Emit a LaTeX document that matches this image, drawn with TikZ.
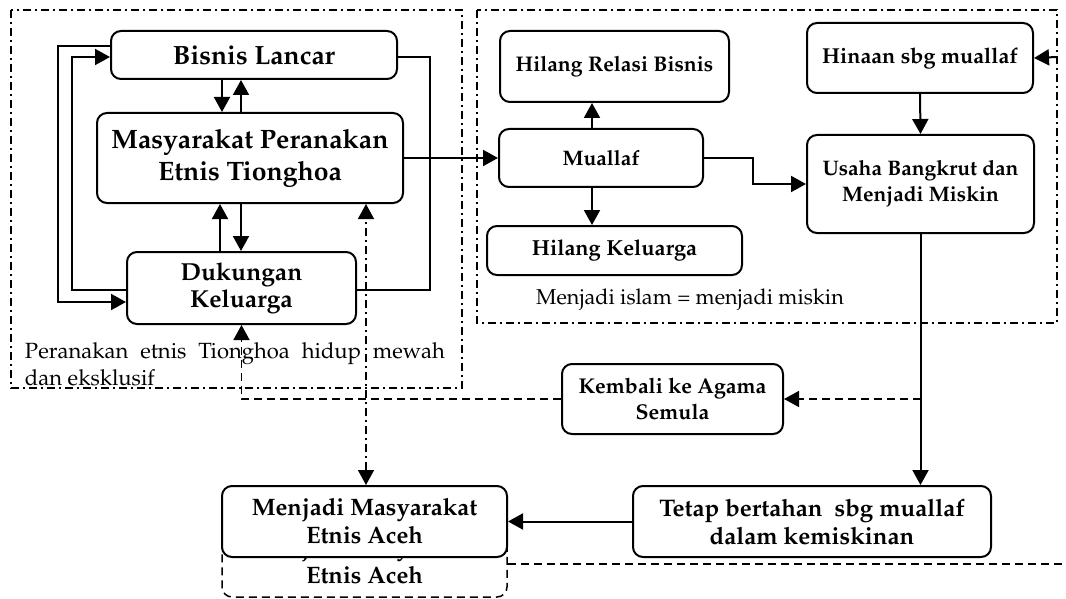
\documentclass[tikz,border=0pt]{standalone}
\usepackage[T1]{fontenc}
\usepackage{mathpazo}
\usetikzlibrary{arrows.meta}
\begin{document}
\begin{tikzpicture}[x=0.5pt,y=-0.5pt,line width=1pt,
kotak/.style={draw,rounded corners=5pt,align=center,inner sep=0pt,fill=white},
pijl/.style={arrows={-Triangle[length=7.5pt,width=8pt]}},
pijldua/.style={arrows={Triangle[length=7.5pt,width=8pt]-Triangle[length=7.5pt,width=8pt]}},
titik/.style={dash pattern=on 4pt off 2pt on 1pt off 2pt,line width=0.75pt},
putus/.style={dash pattern=on 4pt off 2.5pt,line width=0.75pt}]
\useasboundingbox (0,0) rectangle (1066,599);
\draw[titik](11,10) rectangle (462,388);
\draw[titik](477,10) rectangle (1057,323);
\node[kotak,minimum width=143pt,minimum height=24pt,font=\bfseries\fontsize{13.2}{16}\selectfont](bisnis) at (254,55){Bisnis Lancar};
\node[kotak,minimum width=153pt,minimum height=45pt,font=\bfseries\fontsize{13.3}{16}\selectfont](peranakan) at (250,158){Masyarakat Peranakan\\Etnis Tionghoa};
\node[kotak,minimum width=114.5pt,minimum height=36pt,font=\bfseries\fontsize{12.3}{13.5}\selectfont](dukungan) at (241.5,288){Dukungan\\Keluarga};
\node[text width=210pt,align=justify,inner sep=0pt,font=\fontsize{11}{13.5}\selectfont](catatan) at (235,364){Peranakan\hfill etnis\hfill Tionghoa\hfill hidup\hfill mewah\\dan eksklusif};
\node[kotak,minimum width=114.5pt,minimum height=35.5pt,font=\bfseries\fontsize{10.6}{12.5}\selectfont](relasi) at (614.5,66.5){Hilang Relasi Bisnis};
\node[kotak,minimum width=102pt,minimum height=29pt,font=\bfseries\fontsize{10.5}{12.5}\selectfont](muallaf) at (601,158){Muallaf};
\node[kotak,minimum width=127.5pt,minimum height=24.5pt,font=\bfseries\fontsize{10.9}{12.5}\selectfont](keluarga) at (614.5,250.5){Hilang Keluarga};
\node[inner sep=0pt,font=\fontsize{10.8}{12}\selectfont](islam) at (690,300){Menjadi islam = menjadi miskin};
\node[kotak,minimum width=113pt,minimum height=35pt,font=\bfseries\fontsize{10.8}{12.5}\selectfont](hinaan) at (920,58){Hinaan sbg muallaf};
\node[kotak,minimum width=113.5pt,minimum height=49pt,font=\bfseries\fontsize{10.5}{13}\selectfont](usaha) at (920.5,184){Usaha Bangkrut dan\\Menjadi Miskin};
\node[kotak,minimum width=110.5pt,minimum height=35pt,font=\bfseries\fontsize{10.7}{13.3}\selectfont](kembali) at (672.5,399){Kembali ke Agama\\Semula};
\node[kotak,minimum width=179pt,minimum height=35.5pt,font=\bfseries\fontsize{12}{14}\selectfont](tetap) at (812,521.5){Tetap bertahan\ \ sbg muallaf\\dalam kemiskinan};
\node[kotak,putus,fill=none,minimum width=142.5pt,minimum height=35.5pt,font=\bfseries\fontsize{11.9}{14}\selectfont](bayang) at (364.5,561.5){Menjadi Masyarakat\\Etnis Aceh};
\node[kotak,minimum width=142.5pt,minimum height=35.5pt,font=\bfseries\fontsize{11.9}{14}\selectfont](aceh) at (364.5,521.5){Menjadi Masyarakat\\Etnis Aceh};
\coordinate (kanan) at (1057,57);
\draw[pijl]([xshift=-16pt]bisnis.south)--([xshift=-16pt]bisnis.south |- peranakan.north);
\draw[pijl]([xshift=-4.5pt]peranakan.north)--([xshift=-4.5pt]peranakan.north |- bisnis.south);
\draw[pijl]([xshift=-10.75pt]dukungan.north)--([xshift=-15pt]peranakan.south);
\draw[pijl]([xshift=-4.5pt]peranakan.south)--([xshift=-4.5pt]peranakan.south |- dukungan.north);
\draw[pijl]([yshift=4.5pt]bisnis.west)--++(-52,0)|-([yshift=-7pt]dukungan.west);
\draw[pijl]([yshift=-1pt]dukungan.west)--++(-54,0)|-([yshift=-1pt]bisnis.west);
\draw([yshift=-1pt]bisnis.east)--++(32,0)|-([yshift=-1pt]dukungan.east);
\draw[pijl](peranakan.east)--(muallaf.west);
\draw[pijl]([xshift=-4.5pt]muallaf.north)--([xshift=-4.5pt]muallaf.north |- relasi.south);
\draw[pijl]([xshift=-4.5pt]muallaf.south)--([xshift=-4.5pt]muallaf.south |- keluarga.north);
\draw[pijl](muallaf.east)--++(49,0)|-(usaha.west);
\draw[pijl](hinaan.south)--(usaha.north);
\draw[pijl](kanan)--(hinaan.east);
\draw[pijl](usaha.south)--(usaha.south |- tetap.north);
\draw[putus,pijl](usaha.south |- kembali.east)--(kembali.east);
\draw[putus,pijl](kembali.west)-|(dukungan.south);
\draw[pijl](tetap.west)--(aceh.east);
\draw[titik,pijldua]([xshift=0.75pt]aceh.north)--([xshift=0.75pt]aceh.north |- peranakan.south);
\draw[putus]([yshift=-1.25pt]bayang.east)--++(559,0);
\end{tikzpicture}
\end{document}
